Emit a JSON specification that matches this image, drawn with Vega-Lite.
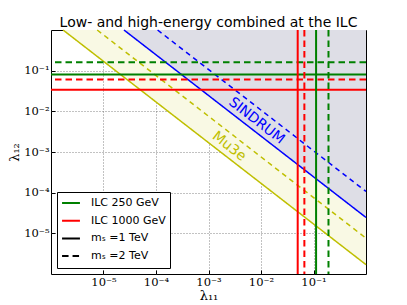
{
  "$schema": "https://vega.github.io/schema/vega-lite/v6.json",
  "width": 315,
  "height": 244,
  "autosize": {"type": "none"},
  "padding": {"left": 51, "top": 30, "right": 41, "bottom": 31},
  "background": "white",
  "title": {"text": "Low- and high-energy combined at the ILC", "frame": "group", "font": "DejaVu Sans", "fontSize": 14, "fontWeight": "normal", "anchor": "middle", "baseline": "alphabetic", "offset": -14, "color": "black"},
  "config": {
    "view": {"stroke": "black", "strokeWidth": 1},
    "axis": {
      "zindex": 1,
      "grid": true,
      "gridColor": "#666666",
      "gridDash": [1, 2],
      "gridWidth": 0.8,
      "domain": false,
      "tickColor": "black",
      "tickSize": -4,
      "labelPadding": 6,
      "labelFont": "DejaVu Serif",
      "labelFontSize": 11.5,
      "labelColor": "black",
      "titleFont": "DejaVu Serif",
      "titleFontSize": 13,
      "titleFontWeight": "normal",
      "titleColor": "black",
      "labelExpr": "'10' + ['⁰','⁻¹','⁻²','⁻³','⁻⁴','⁻⁵','⁻⁶'][-round(log(datum.value)/LN10)]"
    },
    "legend": {
      "orient": "bottom-left",
      "offset": 6,
      "strokeColor": "black",
      "fillColor": "white",
      "padding": 4,
      "cornerRadius": 0,
      "labelFont": "DejaVu Sans",
      "labelFontSize": 11,
      "labelColor": "black",
      "symbolType": "stroke",
      "symbolSize": 320,
      "symbolStrokeWidth": 2,
      "labelOffset": 10,
      "clipHeight": 14,
      "rowPadding": 3.7
    }
  },
  "datasets": {
    "bands": [
      {"region": "Mu3e", "x": 1.698e-6, "y": 1, "y2": 1},
      {"region": "Mu3e", "x": 1, "y": 1.698e-6, "y2": 1},
      {"region": "SINDRUM", "x": 2.455e-5, "y": 1, "y2": 1},
      {"region": "SINDRUM", "x": 1, "y": 2.455e-5, "y2": 1}
    ],
    "diagonals": [
      {"experiment": "Mu3e", "mass": "mₛ =1 TeV", "x": 1.698e-6, "y": 1},
      {"experiment": "Mu3e", "mass": "mₛ =1 TeV", "x": 1, "y": 1.698e-6},
      {"experiment": "Mu3e", "mass": "mₛ =2 TeV", "x": 7.586e-6, "y": 1},
      {"experiment": "Mu3e", "mass": "mₛ =2 TeV", "x": 1, "y": 7.586e-6},
      {"experiment": "SINDRUM", "mass": "mₛ =1 TeV", "x": 2.455e-5, "y": 1},
      {"experiment": "SINDRUM", "mass": "mₛ =1 TeV", "x": 1, "y": 2.455e-5},
      {"experiment": "SINDRUM", "mass": "mₛ =2 TeV", "x": 1.0715e-4, "y": 1},
      {"experiment": "SINDRUM", "mass": "mₛ =2 TeV", "x": 1, "y": 1.0715e-4}
    ],
    "hbounds": [
      {"collider": "ILC 250 GeV", "mass": "mₛ =1 TeV", "y": 0.081},
      {"collider": "ILC 250 GeV", "mass": "mₛ =2 TeV", "y": 0.161},
      {"collider": "ILC 1000 GeV", "mass": "mₛ =1 TeV", "y": 0.034},
      {"collider": "ILC 1000 GeV", "mass": "mₛ =2 TeV", "y": 0.061}
    ],
    "vbounds": [
      {"collider": "ILC 250 GeV", "mass": "mₛ =1 TeV", "x": 0.112},
      {"collider": "ILC 250 GeV", "mass": "mₛ =2 TeV", "x": 0.193},
      {"collider": "ILC 1000 GeV", "mass": "mₛ =1 TeV", "x": 0.050},
      {"collider": "ILC 1000 GeV", "mass": "mₛ =2 TeV", "x": 0.067}
    ],
    "labels": [
      {"label": "SINDRUM", "x": 8.2e-3, "y": 5.8e-3},
      {"label": "Mu3e", "x": 2.48e-3, "y": 1.37e-3}
    ],
    "entries": [
      {"entry": "ILC 250 GeV"},
      {"entry": "ILC 1000 GeV"},
      {"entry": "mₛ =1 TeV"},
      {"entry": "mₛ =2 TeV"}
    ]
  },
  "layer": [
    {
      "data": {"name": "bands"},
      "transform": [{"filter": "datum.region == 'Mu3e'"}],
      "mark": {"type": "area", "color": "#f9f9e4", "opacity": 1},
      "encoding": {
        "x": {"field": "x", "type": "quantitative", "scale": {"type": "log", "domain": [1e-6, 1], "nice": false}, "axis": {"values": [1e-5, 1e-4, 1e-3, 1e-2, 1e-1], "title": "λ₁₁", "titlePadding": 2}},
        "y": {"field": "y", "type": "quantitative", "scale": {"type": "log", "domain": [1e-6, 1], "nice": false}, "axis": {"values": [1e-5, 1e-4, 1e-3, 1e-2, 1e-1], "title": "λ₁₂", "titlePadding": 2}},
        "y2": {"field": "y2"}
      }
    },
    {
      "data": {"name": "bands"},
      "transform": [{"filter": "datum.region == 'SINDRUM'"}],
      "mark": {"type": "area", "color": "#dedee6", "opacity": 1},
      "encoding": {
        "x": {"field": "x", "type": "quantitative"},
        "y": {"field": "y", "type": "quantitative"},
        "y2": {"field": "y2"}
      }
    },
    {
      "data": {"name": "diagonals"},
      "mark": {"type": "line", "strokeWidth": 1.5},
      "encoding": {
        "x": {"field": "x", "type": "quantitative"},
        "y": {"field": "y", "type": "quantitative"},
        "detail": [{"field": "experiment"}, {"field": "mass"}],
        "color": {"condition": {"test": "datum.experiment == 'SINDRUM'", "value": "#0000ff"}, "value": "#bfbf00"},
        "strokeDash": {"condition": {"test": "datum.mass == 'mₛ =2 TeV'", "value": [5, 4]}, "value": [1, 0]}
      }
    },
    {
      "data": {"name": "hbounds"},
      "mark": {"type": "rule", "strokeWidth": 2},
      "encoding": {
        "y": {"field": "y", "type": "quantitative"},
        "color": {"field": "collider", "type": "nominal"},
        "strokeDash": {"field": "mass", "type": "nominal"}
      }
    },
    {
      "data": {"name": "vbounds"},
      "mark": {"type": "rule", "strokeWidth": 2},
      "encoding": {
        "x": {"field": "x", "type": "quantitative"},
        "color": {"field": "collider", "type": "nominal"},
        "strokeDash": {"field": "mass", "type": "nominal"}
      }
    },
    {
      "data": {"name": "labels"},
      "mark": {"type": "text", "angle": 38, "font": "DejaVu Sans", "fontSize": 14, "align": "center", "baseline": "middle"},
      "encoding": {
        "x": {"field": "x", "type": "quantitative"},
        "y": {"field": "y", "type": "quantitative"},
        "text": {"field": "label"},
        "color": {"condition": {"test": "datum.label == 'SINDRUM'", "value": "#0000ff"}, "value": "#bfbf00"}
      }
    },
    {
      "data": {"name": "entries"},
      "mark": {"type": "line", "strokeWidth": 2},
      "encoding": {
        "color": {"field": "entry", "type": "nominal", "scale": {"domain": ["ILC 250 GeV", "ILC 1000 GeV", "mₛ =1 TeV", "mₛ =2 TeV"], "range": ["#008000", "#ff0000", "#000000", "#000000"]}, "legend": {"title": null}},
        "strokeDash": {"field": "entry", "type": "nominal", "scale": {"domain": ["ILC 250 GeV", "ILC 1000 GeV", "mₛ =1 TeV", "mₛ =2 TeV"], "range": [[1, 0], [1, 0], [1, 0], [6.5, 4]]}, "legend": {"title": null}}
      }
    }
  ]
}
